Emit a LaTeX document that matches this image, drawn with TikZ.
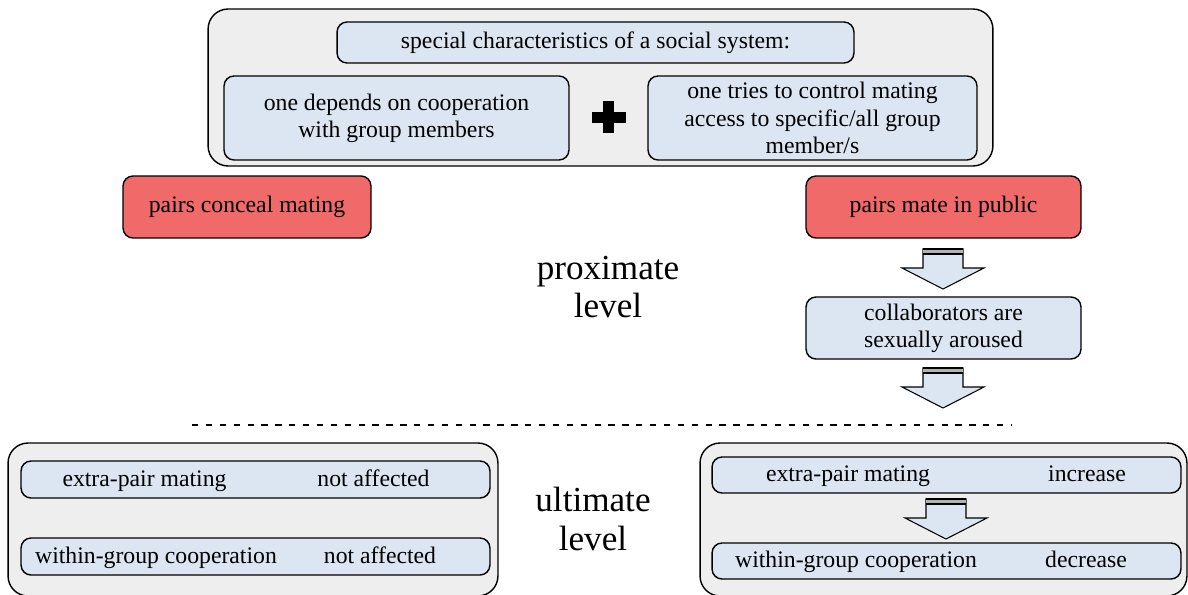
\documentclass[tikz,border=0pt]{standalone}
\usepackage{fontspec}
\setmainfont{Liberation Serif}
\usepackage{tikz}

\definecolor{panelgrey}{HTML}{EEEEEE}
\definecolor{boxblue}{HTML}{DCE6F2}
\definecolor{matered}{HTML}{F06A6A}

\tikzset{
	panel/.style={draw,line width=0.8pt,fill=panelgrey,rounded corners=0.4cm,inner sep=0pt},
	bluebox/.style={draw,line width=0.8pt,fill=boxblue,rounded corners=0.2cm,align=center,inner sep=2pt},
	redbox/.style={draw,line width=0.8pt,fill=matered,rounded corners=0.2cm,align=center},
	rowtext/.style={text height=2ex,text depth=0.3ex},
	level/.style={align=center,font=\fontsize{20}{22}\selectfont}
}

\begin{document}
\begin{tikzpicture}[font=\fontsize{13.5}{15.5}\selectfont,x=0.02cm,y=-0.02cm]
\useasboundingbox (0,0) rectangle (1188,595);

\node[panel,minimum width=15.7cm,minimum height=3.14cm] (social) at (600.5,87.5) {};
\node[bluebox,minimum width=10.34cm,minimum height=0.82cm] (special) at (595.5,42.5) {special characteristics of a social system:};
\node[bluebox,minimum width=6.9cm,minimum height=1.68cm] (coop) at (396.5,118) {one depends on cooperation\\with group members};
\node[bluebox,minimum width=6.58cm,minimum height=1.68cm] (ctrl) at (812.5,118) {one tries to control mating\\access to specific/all group\\member/s};
\fill (603,101) rectangle (614,133);
\fill (592,112) rectangle (626,123);

\node[redbox,minimum width=4.96cm,minimum height=1.24cm] (conceal) at (247,207) {pairs conceal mating};
\node[redbox,minimum width=5.5cm,minimum height=1.24cm] (public) at (943.5,207) {pairs mate in public};
\node[bluebox,minimum width=5.5cm,minimum height=1.24cm] (aroused) at (943.5,328) {collaborators are\\sexually aroused};

\node[level] (prox) at (608,287) {proximate\\level};
\node[level] (ult) at (593,519) {ultimate\\level};

\coordinate (cutL) at (192,425);
\coordinate (cutR) at (1012,425);
\draw[line width=1.5pt,dash pattern=on 3.6pt off 4.3pt] (cutL) -- (cutR);

\node[panel,minimum width=9.8cm,minimum height=3.06cm] (unaff) at (253,519.5) {};
\node[bluebox,minimum width=9.38cm,minimum height=0.74cm] (unaffA) at (255.5,479.5) {};
\node[bluebox,minimum width=9.38cm,minimum height=0.74cm] (unaffB) at (255.5,556.5) {};
\node[rowtext] (unaffAl) at (144.5,479.5) {extra-pair mating};
\node[rowtext] (unaffAr) at (373.5,479.5) {not affected};
\node[rowtext] (unaffBl) at (156,556.5) {within-group cooperation};
\node[rowtext] (unaffBr) at (380,556.5) {not affected};

\node[panel,minimum width=9.74cm,minimum height=3.06cm] (aff) at (943.5,519.5) {};
\node[bluebox,minimum width=9.38cm,minimum height=0.72cm] (affA) at (946.5,475) {};
\node[bluebox,minimum width=9.38cm,minimum height=0.72cm] (affB) at (946.5,561) {};
\node[rowtext] (affAl) at (848,475) {extra-pair mating};
\node[rowtext] (affAr) at (1087,475) {increase};
\node[rowtext] (affBl) at (856,561) {within-group cooperation};
\node[rowtext] (affBr) at (1086,561) {decrease};

\foreach \ax/\ay in {943/249, 943/368, 946/499} {
		\begin{scope}[shift={(\ax,\ay)}]
				\draw[line width=0.6pt,fill=boxblue] (-20,0) -- (20,0) -- (20,19) -- (41,19) -- (0,40) -- (-41,19) -- (-20,19) -- cycle;
				\fill[gray!60] (-20,0) rectangle (20,5);
				\draw[line width=0.8pt] (-20,0) -- (20,0);
				\draw[line width=0.8pt] (-20,5) -- (20,5);
		\end{scope}
}

\end{tikzpicture}
\end{document}
